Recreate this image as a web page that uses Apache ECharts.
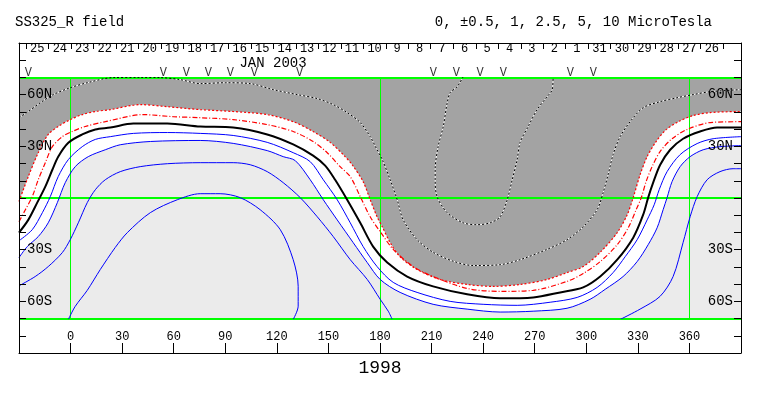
<!DOCTYPE html>
<html><head><meta charset="utf-8">
<script src="https://cdn.jsdelivr.net/npm/echarts@6/dist/echarts.min.js"></script>
<style>html,body{margin:0;padding:0;background:#fff}#c{width:763px;height:396px}</style>
</head><body><div id="c"></div><script>
// ---- axis values ----
const lonTickValues = [0,30,60,90,120,150,180,210,240,270,300,330,360];
const latLabelValues = [60,30,-30,-60];
const latLabelTexts = ['60N','30N','30S','60S'];
const dayBoundaries = [-25.9,-12.8,0.3,13.3,26.4,39.5,52.6,65.7,78.7,91.8,104.9,118.0,131.1,144.1,157.2,170.3,183.4,196.5,209.5,222.6,235.7,248.8,261.9,274.9,288.0,301.1,314.2,327.3,340.3,353.4,366.5,379.6];
const dayLabels = ['25','24','23','22','21','20','19','18','17','16','15','14','13','12','11','10','9','8','7','6','5','4','3','2','1','31','30','29','28','27','26'];
const markerLons = [-24.6,53.9,67.3,80.1,92.9,106.9,133.2,211.0,224.4,238.3,251.7,290.7,304.1];
const markerLat = 72.5;
const gridLons = [0,180,360];
const gridLats = [-70,0,70];

// ---- contours [Carrington longitude, latitude] ----
const pos5 = [[228.4,70.5],[224.9,64.6],[220.8,61.1],[219.1,55.3],[216.8,41.5],[213.8,29.8],[212.1,16.4],[212.1,10.6],[213.2,0.8],[219.1,-8.5],[228.4,-14.4],[236.5,-15.5],[244.1,-14.4],[249.9,-10.9],[254.0,-1.0],[256.9,10.6],[259.8,22.3],[261.5,32.3],[266.2,41.5],[271.4,51.3],[277.2,58.8],[280.2,62.9],[280.7,70.5]];
const pos25 = [[-30,46.6],[-24.6,50.2],[-17.6,55.3],[-10.1,60.0],[-0.2,64.0],[9.7,66.9],[24.8,69.9],[40.5,70.0],[52.2,69.9],[63.8,68.7],[75.4,66.4],[90.0,66.9],[104.5,66.4],[117.9,62.9],[131.9,60.0],[143.5,57.7],[152.8,54.2],[160.9,49.6],[168.5,43.8],[174.3,35.6],[178.3,28.0],[181.3,22.3],[185.9,10.6],[190.0,-1.0],[193.5,-12.7],[201.6,-24.2],[210.9,-31.5],[222.6,-36.7],[234.2,-39.2],[249.9,-38.7],[261.5,-35.8],[277.2,-29.8],[288.8,-24.2],[298.2,-16.7],[306.3,-6.8],[309.8,3.1],[312.7,13.5],[315.6,25.2],[319.7,35.6],[325.5,44.3],[333.1,52.4],[342.9,55.9],[352.8,58.2],[362.1,60.0],[372.1,61.7],[390,62.9]];
const pos1 = [[-30,-2.0],[-24.6,12.4],[-18.8,26.3],[-13.0,36.9],[-7.2,41.5],[-0.2,45.5],[6.8,48.4],[14.4,50.2],[23.1,51.3],[40.5,54.2],[56.3,53.0],[75.4,51.3],[94.6,50.2],[114.4,48.4],[129.5,44.3],[141.1,38.6],[151.0,32.3],[158.6,25.2],[163.8,19.3],[170.2,9.5],[174.3,-1.0],[178.3,-10.9],[181.3,-16.7],[185.9,-25.9],[191.7,-34.1],[201.6,-41.5],[215.0,-47.3],[230.7,-50.2],[245.8,-51.3],[261.5,-50.2],[277.2,-47.3],[288.8,-43.3],[298.2,-39.8],[308.1,-31.5],[318.0,-20.1],[323.8,-9.7],[327.3,0.2],[331.3,13.5],[335.4,24.0],[340.1,32.0],[345.9,39.2],[353.5,44.3],[362.1,47.8],[372.1,49.6],[390,50.2]];
const pos05 = [[-30,-13.8],[-26.3,-6.8],[-22.3,0.8],[-18.8,10.6],[-14.7,20.5],[-10.6,29.8],[-4.8,35.6],[1.0,38.6],[8.5,41.5],[20.2,44.3],[42.3,48.4],[59.7,47.2],[75.4,46.6],[94.6,45.5],[114.4,42.6],[129.5,38.6],[141.1,32.8],[149.3,26.3],[156.8,18.2],[162.7,12.4],[168.5,0.8],[174.3,-10.9],[180.1,-19.5],[187.7,-29.8],[199.3,-39.8],[210.9,-45.6],[230.7,-52.5],[249.9,-54.2],[269.1,-53.6],[288.8,-48.4],[298.2,-43.8],[308.1,-36.9],[318.0,-27.1],[324.4,-17.3],[329.0,-6.8],[332.0,0.2],[334.8,9.5],[338.3,18.2],[342.9,26.9],[349.9,34.4],[358.7,39.8],[372.1,43.8],[390,44.3]];
const zero = [[-30,-20.1],[-24.6,-12.7],[-19.4,-2.7],[-14.7,6.6],[-10.6,16.4],[-7.2,24.0],[-1.3,32.1],[6.8,36.9],[14.4,39.8],[23.1,40.9],[36.5,43.2],[56.3,43.2],[75.4,41.5],[94.6,40.9],[114.4,36.9],[129.5,31.1],[141.1,24.6],[148.1,18.8],[153.9,10.6],[160.9,-1.0],[168.5,-14.4],[176.0,-28.2],[184.2,-37.5],[195.8,-45.6],[210.9,-51.3],[230.7,-55.9],[249.9,-58.2],[269.1,-57.7],[284.8,-54.8],[298.2,-51.9],[308.1,-45.6],[318.0,-35.8],[327.3,-23.0],[333.1,-9.7],[336.0,0.2],[338.9,8.9],[343.0,19.3],[348.8,28.0],[356.3,34.4],[366.2,38.6],[376.1,40.9],[390,40.9]];
const neg05 = [[-30,-24.8],[-22.3,-18.4],[-16.4,-8.5],[-11.8,0.8],[-7.2,12.4],[-1.3,22.3],[6.8,29.8],[14.4,34.0],[23.1,35.6],[36.5,37.5],[56.3,38.0],[75.4,37.5],[94.6,36.3],[114.4,32.3],[129.5,26.3],[139.4,21.1],[147.0,10.6],[155.1,-1.0],[162.7,-14.4],[170.2,-28.2],[178.3,-39.8],[187.7,-49.0],[201.6,-54.8],[220.8,-60.0],[240.0,-61.7],[259.8,-62.3],[279.0,-60.5],[294.7,-57.7],[306.3,-51.9],[315.6,-43.3],[322.6,-34.1],[329.6,-24.2],[335.4,-12.7],[339.5,-3.9],[342.4,4.8],[347.0,15.3],[354.6,25.2],[364.5,31.6],[373.8,34.4],[390,35.6]];
const neg1 = [[-30,-34.6],[-25.2,-28.2],[-18.8,-22.4],[-13.0,-14.4],[-7.7,-2.7],[-3.1,8.9],[2.7,18.2],[10.3,24.0],[20.2,28.0],[28.9,30.9],[46.4,32.8],[75.4,33.4],[94.6,31.7],[114.4,27.5],[123.7,24.0],[130.7,21.7],[139.4,10.6],[147.0,-1.0],[155.1,-12.7],[164.4,-25.9],[172.6,-37.5],[180.1,-47.3],[191.7,-54.8],[210.9,-61.7],[230.7,-64.5],[249.9,-66.2],[269.1,-65.7],[288.8,-64.0],[302.2,-58.8],[311.0,-53.0],[321.4,-45.6],[329.6,-36.9],[336.0,-27.1],[341.2,-17.3],[344.7,-6.8],[347.0,0.2],[349.9,9.5],[354.6,18.2],[360.4,24.0],[368.0,28.0],[377.8,29.8],[390,30.4]];
const neg25a = [[-30,-51.0],[-20.6,-45.6],[-13.0,-39.8],[-4.8,-31.7],[-0.2,-24.2],[4.5,-14.4],[9.7,-2.7],[14.4,4.8],[20.2,10.6],[28.9,15.3],[40.5,18.2],[56.3,19.9],[75.4,20.5],[94.6,20.5],[104.5,19.3],[114.4,15.3],[123.7,8.9],[133.6,0.2],[143.5,-10.9],[152.8,-22.4],[162.7,-35.8],[172.6,-47.3],[180.1,-58.8],[184.8,-65.7],[187.1,-70.5]];
const neg25b = [[319.7,-70.5],[331.3,-64.5],[342.9,-57.1],[350.5,-45.6],[356.3,-25.9],[360.4,-10.9],[364.5,0.8],[370.3,10.6],[377.8,15.3],[385.4,17.0],[390,17.0]];
const neg5 = [[-1.3,-70.5],[2.7,-62.9],[9.7,-53.6],[17.3,-41.5],[26.0,-28.7],[33.0,-20.1],[46.4,-8.5],[62.1,-1.0],[75.4,2.5],[87.0,2.5],[98.7,0.2],[110.3,-6.8],[122.0,-18.4],[129.5,-35.8],[132.4,-51.3],[132.4,-62.8],[129.5,-70.5]];

const FONT = "'Liberation Mono', 'DejaVu Sans Mono', monospace";
const dayMids = dayLabels.map((d, i) => (dayBoundaries[i] + dayBoundaries[i + 1]) / 2);

function contour(data, color, width, type, z) {
  return { type: 'line', xAxisIndex: 2, yAxisIndex: 2, data: data, showSymbol: false, symbol: 'none',
    smooth: 0.3, clip: true, z: z || 5, silent: true,
    lineStyle: { color: color, width: width, type: type } };
}
function fill(data, color, origin) {
  return { type: 'line', xAxisIndex: 2, yAxisIndex: 2, data: data, showSymbol: false, symbol: 'none',
    smooth: 0.3, clip: true, z: 1, silent: true,
    lineStyle: { width: 0, opacity: 0 }, areaStyle: { color: color, origin: origin, opacity: 1 } };
}
function latFormatter(v) { const i = latLabelValues.indexOf(v); return i >= 0 ? latLabelTexts[i] : ''; }

const chart = echarts.init(document.getElementById('c'), null, { renderer: 'canvas' });
const txt = { fontFamily: FONT, color: '#000', fontWeight: 'normal' };
const frameLine = { show: true, onZero: false, lineStyle: { color: '#000', width: 1 } };
chart.setOption({
  animation: false,
  backgroundColor: '#fff',
  title: [
    { text: 'SS325_R field', left: 15, top: 15, padding: 0, textStyle: Object.assign({ fontSize: 14 }, txt) },
    { text: '0, \u00b10.5, 1, 2.5, 5, 10 MicroTesla', right: 51, top: 15, padding: 0, textStyle: Object.assign({ fontSize: 14 }, txt) },
    { text: 'JAN 2003', left: 273, top: 56, padding: 0, textAlign: 'center', textStyle: Object.assign({ fontSize: 14 }, txt) },
    { text: '1998', left: 380, top: 359, padding: 0, textAlign: 'center', textStyle: Object.assign({ fontSize: 18 }, txt) }
  ],
  grid: [
    { left: 19, right: 22, top: 43, bottom: 43, containLabel: false },
    { left: 19, right: 22, top: 77.4, bottom: 77.4, containLabel: false }
  ],
  xAxis: [
    { gridIndex: 0, type: 'value', position: 'bottom', min: -30, max: 390, z: 10,
      axisLine: frameLine,
      axisTick: { show: true, inside: true, length: 10, customValues: lonTickValues, lineStyle: { color: '#000' } },
      axisLabel: { show: true, inside: true, margin: 10, customValues: lonTickValues, fontSize: 12, fontFamily: FONT, color: '#000' },
      splitLine: { show: false } },
    { gridIndex: 0, type: 'value', position: 'top', min: -30, max: 390, z: 10,
      axisLine: frameLine,
      axisTick: { show: true, inside: true, length: 6, customValues: dayBoundaries, lineStyle: { color: '#000' } },
      axisLabel: { show: true, inside: true, margin: 0, customValues: dayMids, fontSize: 12, fontFamily: FONT, color: '#000',
        formatter: function (v) { for (let i = 0; i < dayMids.length; i++) { if (Math.abs(dayMids[i] - v) < 0.01) return dayLabels[i]; } return ''; } },
      splitLine: { show: false } },
    { gridIndex: 1, type: 'value', min: -30, max: 390, show: false }
  ],
  yAxis: [
    { gridIndex: 0, type: 'value', position: 'left', min: -90, max: 90, interval: 10, z: 10,
      axisLine: frameLine,
      axisTick: { show: true, inside: true, length: 7, lineStyle: { color: '#000' } },
      axisLabel: { show: true, inside: true, margin: 8, fontSize: 14, fontFamily: FONT, color: '#000', formatter: latFormatter },
      splitLine: { show: false } },
    { gridIndex: 0, type: 'value', position: 'right', min: -90, max: 90, interval: 10, z: 10,
      axisLine: frameLine,
      axisTick: { show: true, inside: true, length: 7, lineStyle: { color: '#000' } },
      axisLabel: { show: true, inside: true, margin: 8, fontSize: 14, fontFamily: FONT, color: '#000', formatter: latFormatter },
      splitLine: { show: false } },
    { gridIndex: 1, type: 'value', min: -70, max: 70, show: false }
  ],
  series: [
    fill(pos1, '#a3a3a3', 'end'),
    fill(neg1, '#ebebeb', 'start'),
    { type: 'line', xAxisIndex: 2, yAxisIndex: 2, data: [], z: 3, silent: true,
      markLine: { silent: true, symbol: 'none', animation: false, label: { show: false },
        data: gridLons.map(v => ({ xAxis: v, lineStyle: { color: '#00ff00', width: 1, type: 'solid' } }))
          .concat(gridLats.map(v => ({ yAxis: v, lineStyle: { color: '#00ff00', width: 2, type: 'solid' } }))) } },
    contour(pos25, '#ffffff', 1, 'solid', 4),
    contour(pos25, '#000000', 1, [2, 2], 5),
    contour(pos5, '#ffffff', 1, 'solid', 4),
    contour(pos5, '#000000', 1, [2, 2], 5),
    contour(pos1, '#ff0000', 1.2, [2, 2], 5),
    contour(pos05, '#ff0000', 1.2, [5, 2, 1, 2], 5),
    contour(zero, '#000000', 2, 'solid', 5),
    contour(neg05, '#0000ff', 1, 'solid', 5),
    contour(neg1, '#0000ff', 1, 'solid', 5),
    contour(neg25a, '#0000ff', 1, 'solid', 5),
    contour(neg25b, '#0000ff', 1, 'solid', 5),
    contour(neg5, '#0000ff', 1, 'solid', 5),
    { type: 'scatter', xAxisIndex: 0, yAxisIndex: 0, symbolSize: 1, itemStyle: { color: 'rgba(0,0,0,0)' }, silent: true, z: 6,
      data: markerLons.map(v => [v, markerLat]),
      label: { show: true, position: 'inside', formatter: 'V', fontSize: 12, fontFamily: FONT, color: '#000' } }
  ]
});
</script></body></html>
